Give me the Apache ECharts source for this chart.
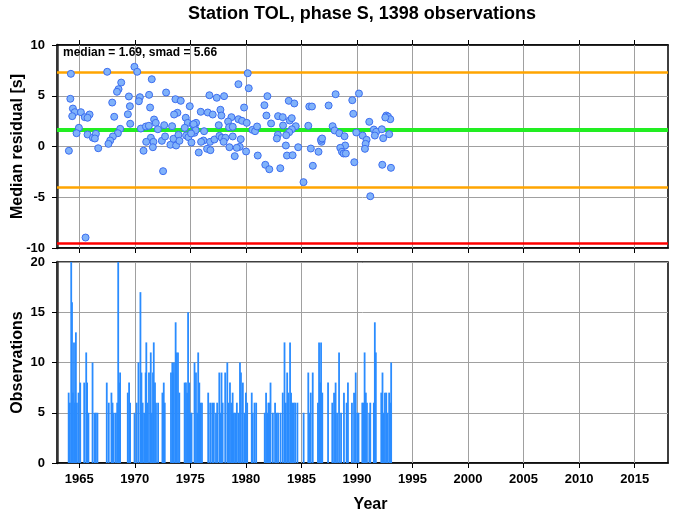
<!DOCTYPE html>
<html><head><meta charset="utf-8">
<script src="https://cdn.jsdelivr.net/npm/echarts@6/dist/echarts.min.js"></script>
<style>html,body{margin:0;padding:0;background:#fff}#c{width:674px;height:511px}</style>
</head><body><div id="c"></div>
<script>
// Median residual per time bin: [year, residual s]
const residYears = [1964.25,1964.2,1964.43,1964.6,1964.37,1965.15,1965.5,1965.93,1965.75,1964.97,1964.76,1964.07,1965.75,1966.23,1966.5,1966.41,1966.71,1965.57,1967.52,1968.78,1968.54,1968.4,1967.97,1969.47,1969.56,1969.38,1968.15,1969.59,1968.69,1968.48,1968.03,1967.79,1967.63,1969.97,1970.22,1970.46,1970.37,1970.55,1970.79,1971.0,
1971.53,1971.29,1972.82,1971.38,1973.66,1974.14,1974.95,1973.84,1973.54,1974.59,1971.74,1971.89,1971.27,1972.08,1972.65,1973.36,1974.77,1974.5,1975.22,1975.52,1971.45,1971.68,1971.63,1971.03,1972.44,1972.73,1973.21,1973.48,1973.72,1973.93,1974.02,1974.62,1974.83,1975.1,1975.37,1972.55,1975.94,1976.57,1977.02,1976.72,1977.38,1978.04,1977.71,1977.8,1978.7,1978.4,1977.56,1978.49,1978.82,1975.4,1975.3,1975.48,1976.24,1976.18,1975.76,1976.51,1976.81,1976.78,1977.17,1977.62,1977.83,1978.16,1978.52,1978.82,1979.0,1978.0,1975.07,1975.97,
1980.17,1979.33,1980.26,1981.94,1981.67,1979.84,1981.85,1979.33,1979.66,1980.08,1980.59,1980.83,1981.01,1982.27,1983.86,1984.36,1982.9,1983.32,1983.95,1984.13,1984.49,1983.35,1984.14,1983.9,1983.63,1982.88,1982.79,1985.71,1985.95,1985.62,1979.54,1979.45,1979.18,1980.02,1981.07,1981.75,1982.11,1983.1,1983.6,1983.7,1984.21,1984.71,1985.19,1985.85,1986.03,1986.54,1986.81,1986.76,1986.86,
1988.08,1990.18,1989.58,1987.45,1989.67,1991.11,1992.64,1992.79,1993.0,1992.55,1987.81,1987.99,1988.41,1989.94,1990.51,1990.87,1990.78,1990.72,1988.88,1988.94,1991.52,1991.73,1991.61,1992.24,1992.9,1992.36,1988.5,1988.65,1988.8,1989.0,1989.76,1992.28,1993.06,1991.2];
const residValues = [7.16,4.7,3.74,3.38,2.99,3.38,2.89,3.15,2.83,1.84,1.31,-0.42,1.18,0.86,1.25,0.79,-0.17,-8.97,7.36,6.3,5.65,5.39,4.33,4.93,3.97,3.18,2.93,2.24,1.74,1.31,0.99,0.59,0.26,7.85,7.36,4.86,4.46,1.77,-0.42,1.97,
6.63,5.09,5.32,3.84,4.66,4.5,3.97,3.32,3.15,2.83,2.66,2.33,2.04,1.7,2.1,2.0,2.33,1.84,2.17,2.33,0.86,0.46,-0.07,0.46,0.56,0.99,0.17,0.76,0.1,1.15,0.56,1.08,0.92,0.39,1.35,-2.43,3.42,3.35,3.15,5.05,4.8,4.96,3.62,3.05,2.89,2.46,2.1,1.9,1.94,1.87,2.2,1.6,1.51,0.59,-0.59,-0.23,-0.36,0.46,0.69,1.05,0.86,0.86,-0.07,0.99,-0.95,0.46,1.28,0.46,
7.22,6.14,5.74,4.96,4.07,3.84,3.05,2.69,2.53,2.33,1.64,1.51,1.97,2.27,4.5,4.24,2.99,2.89,2.56,2.79,2.0,2.07,1.7,1.41,1.11,1.15,0.79,3.94,3.94,2.04,0.72,-0.03,-0.13,-0.49,-0.89,-1.8,-2.24,-2.14,0.1,-0.89,-0.86,-0.07,-3.51,-0.2,-1.9,-0.52,0.46,0.66,0.79,
5.15,5.22,4.56,4.04,3.22,2.43,3.05,2.96,2.69,2.86,2.0,1.58,1.31,1.38,1.08,0.66,0.26,-0.23,1.01,0.1,1.67,1.45,1.08,1.7,1.21,0.82,-0.13,-0.52,-0.69,-0.69,-1.55,-1.8,-2.1,-4.9];

// Observations per time bin
const obsYears = [1964.05,1964.16,1964.28,1964.35,1964.43,1964.53,1964.61,1964.70,1964.79,1964.94,1965.09,1965.45,1965.63,1965.71,1965.83,1966.20,1966.38,1966.50,1966.64,1967.48,1967.66,1967.90,1968.00,1968.11,1968.30,1968.42,1968.51,1968.60,1968.68,1969.37,1969.49,1969.58,1969.98,1970.17,1970.33,1970.51,1970.60,1970.71,1970.84,1970.98,1971.04,1971.13,1971.28,1971.44,1971.53,1971.64,1971.71,1971.82,1971.91,1972.10,1972.49,1972.61,1972.70,1973.26,1973.38,1973.44,1973.53,1973.68,1973.75,1973.89,1974.01,1974.49,1974.61,1974.71,1974.80,1974.91,1975.02,1975.11,1975.38,1975.51,1975.62,1975.71,1975.81,1975.93,1976.05,1976.61,1976.79,1976.97,1977.12,1977.31,1977.42,1977.61,1977.72,1977.81,1977.91,1978.14,1978.33,1978.45,1978.57,1978.69,1978.81,
1978.92,1979.04,1979.19,1979.34,1979.47,1979.56,1979.73,1979.88,1980.00,1980.12,1980.53,1980.62,1980.78,1980.93,1981.70,1981.82,1981.95,1982.03,1982.13,1982.22,1982.43,1982.63,1982.76,1982.90,1983.12,1983.32,1983.48,1983.59,1983.72,1983.83,1983.98,1984.07,1984.17,1984.31,1984.44,1984.64,1985.20,1985.62,1985.72,1985.84,1986.02,1986.49,1986.59,1986.68,1986.77,1986.88,1987.40,1987.78,1987.94,1988.08,1988.21,1988.39,1988.57,1988.83,1989.07,1989.19,1989.55,1989.74,1989.89,1990.03,1990.14,1990.48,1990.59,1990.69,1990.80,1990.90,1991.11,1991.20,1991.52,1991.61,1991.70,1992.19,1992.30,1992.39,1992.52,1992.64,1992.75,1992.90,1992.99,1993.08];
const obsCounts = [7,6,20,16,7,12,6,13,6,7,8,8,11,8,5,10,5,5,5,8,6,7,6,5,5,6,20,8,9,7,8,6,5,6,10,17,9,6,5,9,12,6,9,11,5,9,12,8,6,6,7,8,6,9,10,9,10,14,11,11,7,8,8,7,15,8,5,5,10,9,5,11,8,6,6,7,6,6,6,5,6,9,5,9,6,9,10,6,8,6,7,
5,5,6,5,10,9,8,5,7,6,7,5,6,6,5,7,5,6,6,8,5,6,5,5,5,7,12,6,9,7,12,7,6,6,6,6,5,9,5,7,9,6,12,8,12,7,8,6,7,8,5,11,5,7,6,8,6,7,9,5,5,6,6,11,7,6,5,6,6,14,11,7,9,5,7,7,5,7,6,10];

// Axis ticks
const yearTicks = [1965,1970,1975,1980,1985,1990,1995,2000,2005,2010,2015];

// Reference lines
const medianVal = 1.69, smadVal = 5.66;
const upperLine = 7.35, lowerLine = -3.97, redLine = -9.5;
const titleText = 'Station TOL, phase S, 1398 observations';
const noteText = 'median = 1.69, smad = 5.66';

const FONT = '"Liberation Sans", Arial, Helvetica, sans-serif';
const chart = echarts.init(document.getElementById('c'), null, {renderer: 'canvas'});
const xCommon = {type: 'value', min: 1963, max: 2018};
const axisLabelStyle = {fontFamily: FONT, fontWeight: 'bold', fontSize: 13, color: '#000'};
const splitStyle = {show: true, lineStyle: {color: '#a0a0a0', width: 1}};
const vGrid = yearTicks.map(v => ({xAxis: v}));
const tickCommon = {show: true, length: 5, lineStyle: {color: '#000'}, customValues: yearTicks};

chart.setOption({
  animation: false,
  backgroundColor: '#fff',
  title: {text: titleText, left: 357, textAlign: 'center', top: 0,
    textStyle: {fontFamily: FONT, fontWeight: 'bold', fontSize: 18, color: '#000'}},
  graphic: [{type: 'text', left: 63, top: 47, z: 10,
    style: {text: noteText, fontFamily: FONT, fontWeight: 'bold', fontSize: 12, fill: '#000'}}],
  grid: [
    {left: 57, right: 6, top: 45, height: 203, show: true, borderColor: '#000', borderWidth: 1.5, containLabel: false, outerBoundsMode: 'none'},
    {left: 57, right: 6, top: 262, height: 201, show: true, borderColor: '#000', borderWidth: 1.5, containLabel: false, outerBoundsMode: 'none'}
  ],
  xAxis: [
    Object.assign({}, xCommon, {gridIndex: 0, position: 'bottom', axisLabel: {show: false},
      axisLine: {show: true, onZero: false, lineStyle: {color: '#000', width: 1.5}},
      axisTick: tickCommon, splitLine: {show: false}}),
    Object.assign({}, xCommon, {gridIndex: 0, position: 'top', axisLabel: {show: false},
      axisLine: {show: true, onZero: false, lineStyle: {color: '#000', width: 1.5}},
      axisTick: tickCommon, splitLine: {show: false}}),
    Object.assign({}, xCommon, {gridIndex: 1, position: 'bottom',
      name: 'Year', nameLocation: 'middle', nameGap: 34, nameMoveOverlap: false,
      nameTextStyle: {fontFamily: FONT, fontWeight: 'bold', fontSize: 16, color: '#000', padding: [0, 0, 0, 16]},
      axisLabel: Object.assign({margin: 10, customValues: yearTicks, formatter: v => String(v)}, axisLabelStyle),
      axisLine: {show: true, onZero: false, lineStyle: {color: '#000', width: 1.5}},
      axisTick: tickCommon, splitLine: {show: false}})
  ],
  yAxis: [
    {type: 'value', gridIndex: 0, min: -10, max: 10, interval: 5,
      name: 'Median residual [s]', nameLocation: 'middle', nameGap: 31, nameMoveOverlap: false,
      nameTextStyle: {fontFamily: FONT, fontWeight: 'bold', fontSize: 16, color: '#000'},
      axisLabel: Object.assign({margin: 12}, axisLabelStyle),
      axisLine: {show: true, lineStyle: {color: '#333', width: 2.5}},
      axisTick: {show: true, length: 5, lineStyle: {color: '#000'}}, splitLine: splitStyle},
    {type: 'value', gridIndex: 1, min: 0, max: 20, interval: 5,
      name: 'Observations', nameLocation: 'middle', nameGap: 31, nameMoveOverlap: false,
      nameTextStyle: {fontFamily: FONT, fontWeight: 'bold', fontSize: 16, color: '#000'},
      axisLabel: Object.assign({margin: 12}, axisLabelStyle),
      axisLine: {show: true, lineStyle: {color: '#333', width: 2.5}},
      axisTick: {show: true, length: 5, lineStyle: {color: '#000'}}, splitLine: splitStyle}
  ],
  series: [
    {type: 'line', xAxisIndex: 0, yAxisIndex: 0, data: [], silent: true,
      markLine: {symbol: 'none', silent: true, label: {show: false}, animation: false, z: 1,
        data: vGrid.map(d => Object.assign({lineStyle: {color: '#a0a0a0', width: 1, type: 'solid'}}, d))}},
    {type: 'line', xAxisIndex: 0, yAxisIndex: 0, data: [], silent: true, z: 3,
      markLine: {symbol: 'none', silent: true, label: {show: false}, animation: false,
        data: [
          {yAxis: upperLine, lineStyle: {color: '#ffa500', width: 2.5, type: 'solid'}},
          {yAxis: lowerLine, lineStyle: {color: '#ffa500', width: 2.5, type: 'solid'}},
          {yAxis: medianVal, lineStyle: {color: '#22ee22', width: 4, type: 'solid'}},
          {yAxis: redLine, lineStyle: {color: '#ff0000', width: 2.5, type: 'solid'}}
        ]}},
    {type: 'line', xAxisIndex: 2, yAxisIndex: 1, data: [], silent: true,
      markLine: {symbol: 'none', silent: true, label: {show: false}, animation: false, z: 1,
        data: vGrid.map(d => Object.assign({lineStyle: {color: '#a0a0a0', width: 1, type: 'solid'}}, d))}},
    {type: 'scatter', xAxisIndex: 0, yAxisIndex: 0, symbol: 'circle', symbolSize: 7, z: 5,
      itemStyle: {color: '#80b2fa', borderColor: '#3d6ef0', borderWidth: 1, opacity: 1},
      data: residYears.map((y, i) => [y, residValues[i]])},
    {type: 'bar', xAxisIndex: 2, yAxisIndex: 1, barWidth: 1.8, barGap: '-100%', z: 4,
      itemStyle: {color: '#2a8cff'},
      data: obsYears.map((y, i) => [y, obsCounts[i]])}
  ]
});
</script></body></html>
